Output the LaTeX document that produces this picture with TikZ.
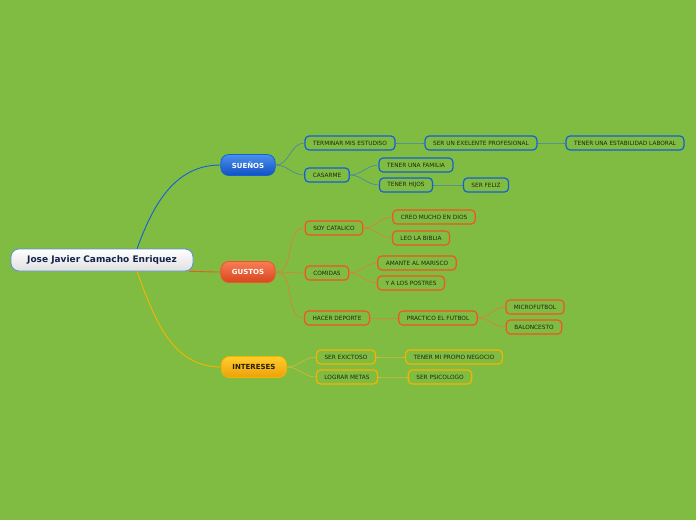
\documentclass[tikz,border=0pt]{standalone}
\usepackage{fontspec}
\setmainfont{DejaVu Sans}
\begin{document}
\begin{tikzpicture}[x=1pt,y=-1pt]
  \definecolor{bg}{RGB}{128,188,65}
  \definecolor{sblue}{RGB}{20,95,215}
  \definecolor{sline}{RGB}{70,130,175}
  \definecolor{gred}{RGB}{240,85,35}
  \definecolor{gline}{RGB}{222,125,60}
  \definecolor{iyel}{RGB}{245,180,0}
  \definecolor{iline}{RGB}{215,185,50}
  \definecolor{leaftext}{RGB}{30,38,20}
  \fill [bg] (0,0) rectangle (696,520);  % Hintergrund.
  \tikzstyle{leaf}=[draw, rounded corners=4pt, line width=1.2pt, fill=bg, minimum height=14pt, inner xsep=8pt, inner ysep=0pt, font=\fontsize{5.8}{6}\selectfont, text=leaftext]
  \tikzstyle{sleaf}=[leaf, draw=sblue]
  \tikzstyle{gleaf}=[leaf, draw=gred]
  \tikzstyle{ileaf}=[leaf, draw=iyel]
  \tikzstyle{topic}=[draw, rounded corners=8pt, line width=0.8pt, minimum height=21pt, inner xsep=11pt, inner ysep=0pt, font=\fontsize{7}{8}\selectfont\bfseries]
  \tikzstyle{sedge}=[draw=sline, line width=0.6pt, out=0, in=180]
  \tikzstyle{gedge}=[draw=gline, line width=0.6pt, out=0, in=180]
  \tikzstyle{iedge}=[draw=iline, line width=0.6pt, out=0, in=180]

  \node[draw=sblue!70, rounded corners=8pt, line width=0.8pt, top color=white, bottom color=black!12, minimum width=182pt, minimum height=22pt, font=\fontsize{9}{10}\selectfont\bfseries, text={rgb,255:red,20;green,35;blue,75}] (root) at (102, 260) {Jose Javier Camacho Enriquez};

  \node[topic, draw=sblue, top color={rgb,255:red,75;green,145;blue,235}, bottom color={rgb,255:red,15;green,80;blue,195}, text=white] (suenos) at (248, 165) {SUEÑOS};
  \node[topic, draw=gred, top color={rgb,255:red,248;green,125;blue,85}, bottom color={rgb,255:red,215;green,70;blue,30}, text=white] (gustos) at (248, 272) {GUSTOS};
  \node[topic, draw=iyel, top color={rgb,255:red,255;green,205;blue,45}, bottom color={rgb,255:red,238;green,160;blue,10}, text={rgb,255:red,40;green,30;blue,0}] (intereses) at (254, 367) {INTERESES};

  \node[sleaf] (estudios)    at (350, 143) {TERMINAR MIS ESTUDISO};
  \node[sleaf] (profesional) at (481, 143) {SER UN EXELENTE PROFESIONAL};
  \node[sleaf] (laboral)     at (625, 143) {TENER UNA ESTABILIDAD LABORAL};
  \node[sleaf] (casarme)     at (327, 175) {CASARME};
  \node[sleaf] (familia)     at (416, 165) {TENER UNA FAMILIA};
  \node[sleaf] (hijos)       at (406, 185) {TENER HIJOS};
  \node[sleaf] (feliz)       at (486, 185) {SER FELIZ};

  \node[gleaf] (catalico)    at (334, 228) {SOY CATALICO};
  \node[gleaf] (dios)        at (434, 217) {CREO MUCHO EN DIOS};
  \node[gleaf] (biblia)      at (421, 238) {LEO LA BIBLIA};
  \node[gleaf] (comidas)     at (327, 273) {COMIDAS};
  \node[gleaf] (marisco)     at (417, 263) {AMANTE AL MARISCO};
  \node[gleaf] (postres)     at (411, 283) {Y A LOS POSTRES};
  \node[gleaf] (deporte)     at (337, 318) {HACER DEPORTE};
  \node[gleaf] (futbol)      at (438, 318) {PRACTICO EL FUTBOL};
  \node[gleaf] (micro)       at (535, 307) {MICROFUTBOL};
  \node[gleaf] (baloncesto)  at (534, 327) {BALONCESTO};

  \node[ileaf] (exitoso)     at (346, 357) {SER EXICTOSO};
  \node[ileaf] (negocio)     at (454, 357) {TENER MI PROPIO NEGOCIO};
  \node[ileaf] (metas)       at (347, 377) {LOGRAR METAS};
  \node[ileaf] (psicologo)   at (440, 377) {SER PSICOLOGO};

  \path (root.18) edge[draw=sblue, line width=0.9pt, out=70, in=180] (suenos);
  \path ([xshift=-4pt]root.south east) edge[draw=gred, line width=0.9pt, out=0, in=180] (gustos.west);
  \path (root.-18) edge[draw=iyel, line width=0.9pt, out=-70, in=180] (intereses);

  \path (suenos) edge[sedge] (estudios);
  \path (suenos) edge[sedge] (casarme);
  \path (estudios) edge[sedge] (profesional);
  \path (profesional) edge[sedge] (laboral);
  \path (casarme) edge[sedge] (familia);
  \path (casarme) edge[sedge] (hijos);
  \path (hijos) edge[sedge] (feliz);

  \path (gustos) edge[gedge] (catalico);
  \path (gustos) edge[gedge] (comidas);
  \path (gustos) edge[gedge] (deporte);
  \path (catalico) edge[gedge] (dios);
  \path (catalico) edge[gedge] (biblia);
  \path (comidas) edge[gedge] (marisco);
  \path (comidas) edge[gedge] (postres);
  \path (deporte) edge[gedge] (futbol);
  \path (futbol) edge[gedge] (micro);
  \path (futbol) edge[gedge] (baloncesto);

  \path (intereses) edge[iedge] (exitoso);
  \path (intereses) edge[iedge] (metas);
  \path (exitoso) edge[iedge] (negocio);
  \path (metas) edge[iedge] (psicologo);
\end{tikzpicture}
\end{document}
